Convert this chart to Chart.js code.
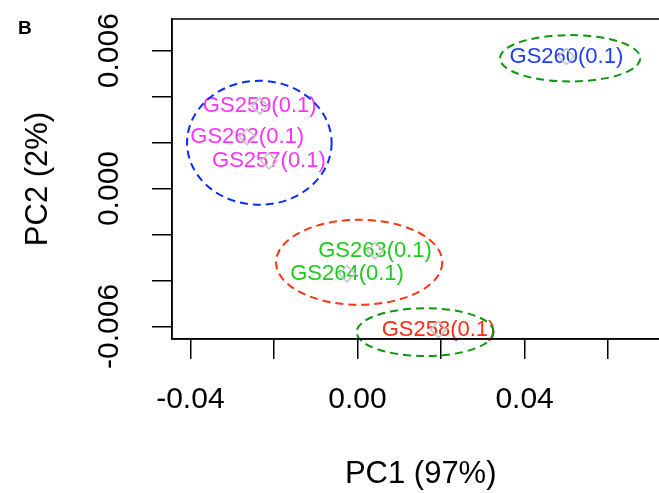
<!DOCTYPE html>
<html>
<head>
<meta charset="utf-8">
<script src="https://cdn.jsdelivr.net/npm/chart.js@4"></script>
<style>
    html, body { margin: 0; padding: 0; background: #fff; overflow: hidden; }
    #wrap { position: relative; width: 659px; height: 493px; overflow: hidden; }
    #pca { display: block; }
</style>
</head>
<body>
<div id="wrap"><canvas id="pca" width="679" height="493"></canvas></div>
<script>
// samples and their PCA scores
const sampleNames = ['GS260', 'GS259', 'GS262', 'GS257', 'GS263', 'GS264', 'GS258'];
const sampleTags = ['(0.1)', '(0.1)', '(0.1)', '(0.1)', '(0.1)', '(0.1)', '(0.1)'];
const pc1 = [0.0500, -0.0234, -0.0264, -0.0212, 0.0042, -0.0025, 0.0194];
const pc2 = [0.00575, 0.00360, 0.00225, 0.00120, -0.00271, -0.00371, -0.00614];
const labelColors = ['#1f3cff', '#ff33ff', '#ff33ff', '#ff33ff', '#1ccc1c', '#1ccc1c', '#ff2c14'];

// cluster ellipses: centre, half-widths (data units)
const ellipseX = [0.0509, -0.0235, 0.0004, 0.0162];
const ellipseY = [0.00567, 0.00199, -0.00321, -0.00625];
const ellipseRx = [0.0168, 0.0173, 0.0199, 0.0164];
const ellipseRy = [0.00101, 0.00270, 0.00185, 0.00104];
const ellipseColors = ['#0e960e', '#0b2dff', '#ff3414', '#0e960e'];

// axes
const xTicks = [-0.04, -0.02, 0, 0.02, 0.04, 0.06];
const xTickLabels = ['-0.04', '', '0.00', '', '0.04', ''];
const yTicks = [-0.006, -0.004, -0.002, 0, 0.002, 0.004, 0.006];
const yTickLabels = ['-0.006', '', '', '0.000', '', '', '0.006'];

const FONT = "'Liberation Sans', Arial, sans-serif";

const points = pc1.map((x, i) => ({ x, y: pc2[i] }));

const decorations = {
    id: 'decorations',
    beforeDatasetsDraw(chart) {
        const ctx = chart.ctx;
        const meta = chart.getDatasetMeta(0);
        ctx.save();
        ctx.font = '22px ' + FONT;
        ctx.textAlign = 'center';
        ctx.textBaseline = 'middle';
        meta.data.forEach((pt, i) => {
            ctx.fillStyle = labelColors[i];
            ctx.fillText(sampleNames[i] + sampleTags[i], pt.x, pt.y);
        });
        ctx.restore();
    },
    afterDatasetsDraw(chart) {
        const ctx = chart.ctx;
        const xs = chart.scales.x, ys = chart.scales.y;
        ctx.save();
        ctx.lineWidth = 2;
        ctx.setLineDash([8, 5]);
        ellipseX.forEach((cx, i) => {
            const px = xs.getPixelForValue(cx);
            const py = ys.getPixelForValue(ellipseY[i]);
            const rx = Math.abs(xs.getPixelForValue(cx + ellipseRx[i]) - px);
            const ry = Math.abs(ys.getPixelForValue(ellipseY[i] + ellipseRy[i]) - py);
            ctx.strokeStyle = ellipseColors[i];
            ctx.beginPath();
            ctx.ellipse(px, py, rx, ry, 0, 0, Math.PI * 2);
            ctx.stroke();
        });
        ctx.restore();
    },
    afterDraw(chart) {
        const ctx = chart.ctx;
        const a = chart.chartArea;
        ctx.save();
        ctx.strokeStyle = '#000';
        ctx.lineWidth = 1.5;
        ctx.strokeRect(a.left, a.top, a.right - a.left, a.bottom - a.top);
        ctx.fillStyle = '#000';
        ctx.font = 'bold 19px ' + FONT;
        ctx.textAlign = 'left';
        ctx.textBaseline = 'alphabetic';
        ctx.fillText('B', 18, 34);
        ctx.restore();
    }
};

new Chart(document.getElementById('pca'), {
    type: 'scatter',
    data: {
        datasets: [{
            data: points,
            pointStyle: 'rectRot',
            pointRadius: 8,
            pointHoverRadius: 8,
            pointBorderWidth: 1.6,
            pointBorderColor: '#c4c4c4',
            pointBackgroundColor: 'rgba(0,0,0,0)',
            clip: false
        }]
    },
    options: {
        responsive: false,
        animation: false,
        events: [],
        layout: { padding: { top: 19, right: 2, left: 0, bottom: 0 } },
        plugins: { legend: { display: false }, tooltip: { enabled: false } },
        scales: {
            x: {
                type: 'linear',
                min: -0.0444,
                max: 0.07466,
                afterBuildTicks: s => { s.ticks = xTicks.map(v => ({ value: v })); },
                afterFit: s => { s.height = 154; s.paddingLeft = 0; s.paddingRight = 0; },
                ticks: {
                    autoSkip: false,
                    maxRotation: 0,
                    padding: 23,
                    color: '#000',
                    font: { family: FONT, size: 30 },
                    callback: (v, i) => xTickLabels[i]
                },
                grid: { drawOnChartArea: false, drawTicks: true, tickLength: 20, color: '#000', lineWidth: 1.5 },
                border: { color: '#000', width: 1.5 },
                title: { display: true, text: 'PC1 (97%)', color: '#000', font: { family: FONT, size: 31 }, padding: { bottom: 0 } }
            },
            y: {
                type: 'linear',
                min: -0.00655,
                max: 0.00738,
                afterBuildTicks: s => { s.ticks = yTicks.map(v => ({ value: v })); },
                afterFit: s => { s.width = 172; s.paddingTop = 0; s.paddingBottom = 0; },
                ticks: {
                    autoSkip: false,
                    minRotation: 90,
                    maxRotation: 90,
                    crossAlign: 'center',
                    padding: 0,
                    color: '#000',
                    font: { family: FONT, size: 30 },
                    callback: (v, i) => yTickLabels[i]
                },
                grid: { drawOnChartArea: false, drawTicks: true, tickLength: 20, color: '#000', lineWidth: 1.5 },
                border: { color: '#000', width: 1.5 },
                title: { display: true, text: 'PC2 (2%)', color: '#000', font: { family: FONT, size: 31 }, padding: { top: 20 } }
            }
        }
    },
    plugins: [decorations]
});
</script>
</body>
</html>
